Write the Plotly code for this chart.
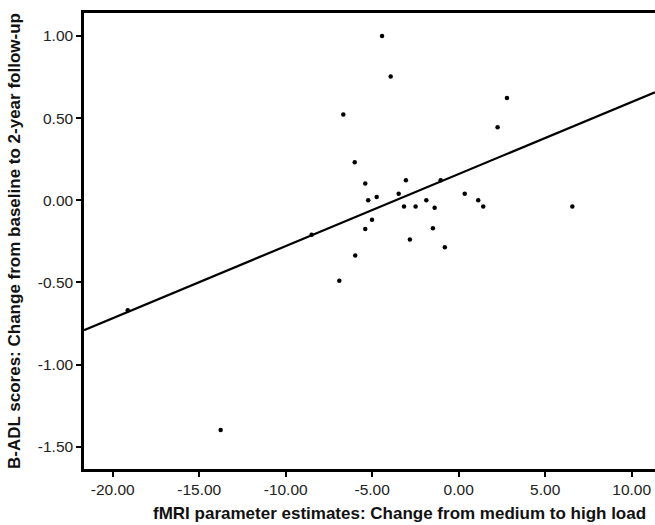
import plotly.graph_objects as go

# Data
fmri_change = [-19.13, -13.76, -8.50, -6.90, -6.67, -6.01, -5.98, -5.40, -5.40, -5.23,
               -5.01, -4.74, -4.43, -3.93, -3.47, -3.16, -3.05, -2.82, -2.49, -1.87,
               -1.49, -1.39, -1.04, -0.80, 0.35, 1.13, 1.42, 2.25, 2.79, 6.57]
badl_change = [-0.669, -1.398, -0.209, -0.49, 0.523, 0.231, -0.336, 0.103, -0.174, 0.0,
               -0.118, 0.02, 1.00, 0.754, 0.04, -0.038, 0.122, -0.239, -0.038, 0.0,
               -0.17, -0.045, 0.122, -0.286, 0.04, 0.0, -0.038, 0.444, 0.622, -0.038]

# Fit line end points
fit_x = [-21.66, 11.35]
fit_y = [-0.79, 0.658]

x_ticks = [-20, -15, -10, -5, 0, 5, 10]
x_tick_labels = ["-20.00", "-15.00", "-10.00", "-5.00", "0.00", "5.00", "10.00"]
y_ticks = [1.0, 0.5, 0.0, -0.5, -1.0, -1.5]
y_tick_labels = ["1.00", "0.50", "0.00", "-0.50", "-1.00", "-1.50"]

x_title = "fMRI parameter estimates: Change from medium to high load"
y_title = "B-ADL scores: Change from baseline to 2-year follow-up"

FONT = "Liberation Sans, Arial, sans-serif"

fig = go.Figure()
fig.add_trace(go.Scatter(x=fit_x, y=fit_y, mode="lines",
                         line=dict(color="black", width=2.2), showlegend=False,
                         hoverinfo="skip"))
fig.add_trace(go.Scatter(x=fmri_change, y=badl_change, mode="markers",
                         marker=dict(color="black", size=4.5), showlegend=False))

fig.update_layout(
    width=655, height=525,
    margin=dict(l=84, r=0, t=13, b=56),
    paper_bgcolor="white", plot_bgcolor="white",
    font=dict(family=FONT, size=15.5, color="#222"),
    xaxis=dict(range=[-21.66, 11.35], tickmode="array", tickvals=x_ticks,
               ticktext=x_tick_labels, ticks="outside", ticklen=5, tickwidth=1.5,
               tickcolor="black", showline=True, linewidth=2.5, linecolor="black",
               mirror=True, showgrid=False, zeroline=False,
               tickfont=dict(size=15.5, color="#222")),
    yaxis=dict(range=[-1.635, 1.14], tickmode="array", tickvals=y_ticks,
               ticktext=y_tick_labels, ticks="outside", ticklen=5, tickwidth=1.5,
               tickcolor="black", showline=True, linewidth=2.5, linecolor="black",
               showgrid=False, zeroline=False,
               tickfont=dict(size=15.5, color="#222")),
    annotations=[
        dict(text="<b>" + x_title + "</b>", xref="paper", yref="paper",
             x=0.552, y=0, yshift=-44, xanchor="center", yanchor="middle",
             showarrow=False, font=dict(family=FONT, size=17, color="#111")),
        dict(text="<b>" + y_title + "</b>", xref="paper", yref="paper",
             x=0, y=0.5, xshift=-70, xanchor="center", yanchor="middle",
             textangle=-90, showarrow=False,
             font=dict(family=FONT, size=17, color="#111")),
    ],
)

fig.write_html("out.html", config={"displayModeBar": False},
               post_script="document.body.style.margin='0';document.body.style.padding='0';")
